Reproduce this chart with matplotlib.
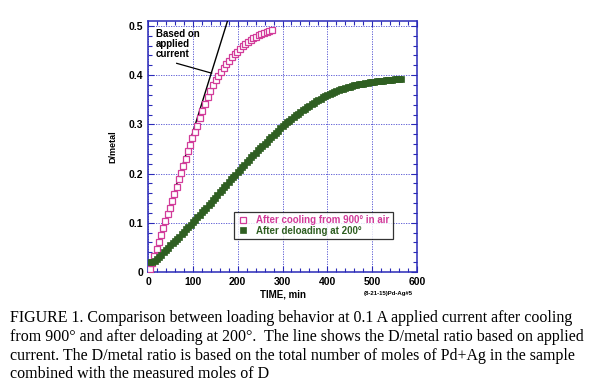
import matplotlib
matplotlib.use("Agg")
import matplotlib.pyplot as plt
from matplotlib.ticker import MultipleLocator

plt.rcParams['font.family'] = ['Liberation Sans', 'DejaVu Sans']

# ---- data ----
pink_time = [4, 9, 14, 19, 24, 29, 34, 39, 44, 49, 54, 59, 64, 69, 74, 79, 84, 89, 94, 99,
             104, 109, 115, 121, 127, 133, 139, 145, 151, 157, 163, 169, 175, 181, 187, 193,
             199, 205, 211, 217, 223, 229, 235, 241, 247, 253, 259, 265, 271, 277]
pink_d = [0.006, 0.019, 0.033, 0.047, 0.061, 0.075, 0.089, 0.103, 0.117, 0.131, 0.145, 0.159,
          0.173, 0.188, 0.202, 0.216, 0.230, 0.245, 0.259, 0.272, 0.285, 0.297, 0.312, 0.327,
          0.341, 0.355, 0.368, 0.380, 0.390, 0.399, 0.407, 0.415, 0.422, 0.429, 0.436, 0.442,
          0.448, 0.454, 0.459, 0.463, 0.467, 0.471, 0.475, 0.478, 0.481, 0.484, 0.486, 0.488,
          0.490, 0.492]

green_time = [5, 10, 15, 20, 25, 30, 35, 40, 45, 50, 55, 60, 65, 70, 75, 80, 85, 90, 95, 100,
              105, 110, 115, 120, 125, 130, 135, 140, 145, 150, 155, 160, 165, 170, 175, 180,
              185, 190, 195, 200, 205, 210, 215, 220, 225, 230, 235, 240, 245, 250, 255, 260,
              265, 270, 275, 280, 285, 290, 295, 300, 305, 310, 315, 320, 325, 330, 335, 340,
              345, 350, 355, 360, 365, 370, 375, 380, 385, 390, 395, 400, 405, 410, 415, 420,
              425, 430, 435, 440, 445, 450, 455, 460, 465, 470, 475, 480, 485, 490, 495, 500,
              505, 510, 515, 520, 525, 530, 535, 540, 545, 550, 555, 560, 565]
green_d = [0.020, 0.020, 0.022, 0.026, 0.031, 0.035, 0.040, 0.045, 0.049, 0.054, 0.058, 0.063,
           0.068, 0.072, 0.077, 0.082, 0.087, 0.092, 0.096, 0.101, 0.106, 0.111, 0.116, 0.121,
           0.126, 0.131, 0.136, 0.141, 0.146, 0.151, 0.157, 0.162, 0.167, 0.172, 0.177, 0.183,
           0.188, 0.193, 0.198, 0.203, 0.208, 0.213, 0.218, 0.223, 0.228, 0.233, 0.237, 0.242,
           0.247, 0.251, 0.256, 0.261, 0.265, 0.270, 0.274, 0.279, 0.283, 0.287, 0.292, 0.296,
           0.300, 0.304, 0.307, 0.311, 0.315, 0.319, 0.322, 0.326, 0.329, 0.332, 0.335, 0.338,
           0.341, 0.344, 0.347, 0.350, 0.352, 0.355, 0.357, 0.359, 0.361, 0.363, 0.365, 0.367,
           0.369, 0.371, 0.372, 0.374, 0.375, 0.376, 0.378, 0.379, 0.380, 0.381, 0.382, 0.383,
           0.384, 0.385, 0.386, 0.386, 0.387, 0.388, 0.388, 0.389, 0.389, 0.390, 0.390, 0.391,
           0.391, 0.392, 0.392, 0.392, 0.393]

line_time = [3, 178]
line_d = [0.0, 0.512]

pointer_time = [64, 142]
pointer_d = [0.424, 0.404]

series_labels = ["After cooling from 900\u00b0 in air", "After deloading at 200\u00b0"]
caption_lines = [
    "FIGURE 1. Comparison between loading behavior at 0.1 A applied current after cooling",
    "from 900\u00b0 and after deloading at 200\u00b0.  The line shows the D/metal ratio based on applied",
    "current. The D/metal ratio is based on the total number of moles of Pd+Ag in the sample",
    "combined with the measured moles of D",
]

PINK = "#d23c9a"
GREEN = "#2f5f22"
BLUE = "#2a2ab8"

fig = plt.figure(figsize=(6.0, 3.91), dpi=100)
ax = fig.add_axes([148/600, 1-272/391, (417-148)/600, (272-21)/391])

ax.plot(line_time, line_d, color="black", lw=1.0, zorder=3)
ax.plot(pointer_time, pointer_d, color="black", lw=0.9, zorder=3)
ax.plot(pink_time, pink_d, ls="none", marker="s", ms=4.2, mfc="white", mec=PINK, mew=0.9,
        label=series_labels[0], zorder=4)
ax.plot(green_time, green_d, ls="none", marker="s", ms=4.6, mfc=GREEN, mec=GREEN, mew=0.5,
        label=series_labels[1], zorder=4)

ax.text(18, 0.493, "Based on\napplied\ncurrent", fontsize=7, fontweight="bold", va="top",
        ha="left", linespacing=0.95)

ax.set_xlim(0, 600)
ax.set_ylim(0, 0.51)
ax.xaxis.set_major_locator(MultipleLocator(100))
ax.xaxis.set_minor_locator(MultipleLocator(20))
ax.yaxis.set_major_locator(MultipleLocator(0.1))
ax.yaxis.set_minor_locator(MultipleLocator(0.02))
ax.set_yticks([0, 0.1, 0.2, 0.3, 0.4, 0.5])
ax.set_yticklabels(["0", "0.1", "0.2", "0.3", "0.4", "0.5"])
ax.tick_params(which="both", direction="in", top=True, right=True, color=BLUE,
               labelsize=7.5, width=0.8)
ax.tick_params(which="major", length=4)
ax.tick_params(which="minor", length=3)
for lab in ax.get_xticklabels() + ax.get_yticklabels():
    lab.set_fontweight("bold")
for sp in ax.spines.values():
    sp.set_color(BLUE)
    sp.set_linewidth(1.1)
ax.grid(True, which="major", color="#4a4ad0", ls=(0, (1.5, 1.5)), lw=0.6)

ax.set_xlabel("TIME, min", fontsize=7, fontweight="bold", labelpad=2)
ax.set_ylabel("D/metal", fontsize=6.5, fontweight="bold", labelpad=8)
fig.text(388/600, 1-294/391, "(8-21-15)Pd-Ag#5", fontsize=4.3, fontweight="bold",
         ha="center", va="center")

leg = ax.legend(loc="upper left", bbox_to_anchor=((234-148)/269, (272-212)/251),
                fontsize=7, frameon=True, fancybox=False, edgecolor="black",
                borderpad=0.3, handlelength=1.2, handletextpad=0.8, labelspacing=0.1,
                borderaxespad=0, markerscale=0.9)
leg.get_frame().set_linewidth(0.9)
for txt, c in zip(leg.get_texts(), [PINK, GREEN]):
    txt.set_color(c)
    txt.set_fontweight("bold")

ys = [318, 337, 356, 374]
for line, y in zip(caption_lines, ys):
    fig.text(10/600, 1-y/391, line, fontsize=11.5, family="Liberation Serif",
             ha="left", va="center")

fig.savefig("out.png", dpi=100)
